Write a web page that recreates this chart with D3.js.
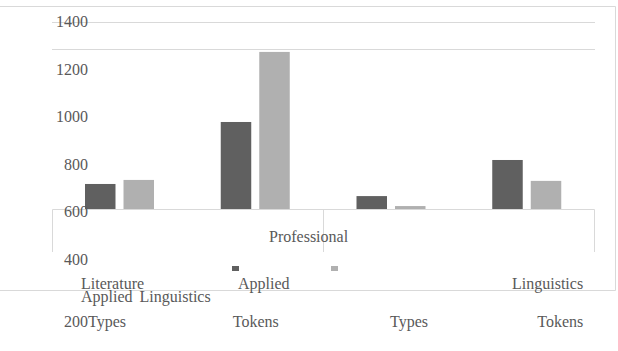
<!DOCTYPE html>
<html><head><meta charset="utf-8">
<script src="https://cdn.jsdelivr.net/npm/d3@7"></script>
<style>
html,body{margin:0;padding:0;background:#fff;}
svg{display:block;}
</style></head>
<body>
<script>
// ---- data ----
const categories = ["Literature Types", "Literature Tokens", "Applied Linguistics Types", "Applied Linguistics Tokens"];
const seriesNames = ["Series 1", "Series 2"];
const darkValues = [718, 979, 667, 819];
const lightValues = [735, 1274, 625, 731];
const yTicks = [1400, 1200, 1000, 800, 600, 400];
const gridValues = [1400, 1286];
const bottomLabels = ["Types", "Tokens", "Types", "Tokens"];

const W = 618, H = 351;
const FONT = "'Liberation Serif', 'Times New Roman', 'DejaVu Serif', serif";
const svg = d3.select("body").append("svg").attr("width", W).attr("height", H)
  .attr("font-family", FONT).attr("font-size", 16);
const grid = "#d9d9d9";
const textColor = "#595959";

const x = d3.scaleBand().domain(categories).range([52, 595]);
const y = d3.scaleLinear().domain([400, 1400]).range([259.5, 22]);
const inner = d3.scaleBand().domain(seriesNames).range([33, 102]).paddingInner(0.208);

// outer border (no left edge)
svg.append("path")
  .attr("d", "M0,6.5H615.5V290.5H0")
  .attr("fill", "none").attr("stroke", grid).attr("stroke-width", 1);

// gridlines
svg.selectAll("line.grid").data(gridValues).join("line")
  .attr("x1", 52).attr("x2", 595)
  .attr("y1", d => Math.round(y(d)) + 0.5).attr("y2", d => Math.round(y(d)) + 0.5)
  .attr("stroke", grid);

// bars
const colors = ["#606060", "#b0b0b0"];
[darkValues, lightValues].forEach((vals, si) => {
  svg.selectAll("rect.s" + si).data(vals).join("rect")
    .attr("x", (d, i) => x(categories[i]) + inner(seriesNames[si]))
    .attr("width", inner.bandwidth())
    .attr("y", d => y(d))
    .attr("height", d => y(500) - y(d))
    .attr("fill", colors[si]);
});

// white overlay box
svg.append("rect").attr("x", 52).attr("y", 209).attr("width", 543).attr("height", 80).attr("fill", "#fff");
svg.append("path")
  .attr("d", "M52.5,252V209.5H594.5V252M323.5,209.5V252")
  .attr("fill", "none").attr("stroke", grid);

const T = (xx, yy, s, anchor) => svg.append("text").attr("x", xx).attr("y", yy)
  .attr("fill", textColor).attr("text-anchor", anchor || "start").text(s);

// y tick labels
svg.selectAll("text.yt").data(yTicks).join("text")
  .attr("x", 88).attr("y", d => y(d) + 5).attr("fill", textColor)
  .attr("text-anchor", "end").text(d => d);
T(88, 327, "200", "end");

// bottom category labels
const labelOffsets = [36, 45, 66.5, 78];
svg.selectAll("text.bl").data(bottomLabels).join("text")
  .attr("x", (d, i) => x(categories[i]) + labelOffsets[i]).attr("y", 327)
  .attr("fill", textColor).text(d => d);

// misc labels
T(269, 242, "Professional");
T(81, 289, "Literature");
T(81, 302, "Applied Linguistics").attr("word-spacing", "3px");
T(238, 289, "Applied");
T(512, 289, "Linguistics");

// legend markers
svg.append("rect").attr("x", 232).attr("y", 266).attr("width", 7).attr("height", 5).attr("fill", colors[0]);
svg.append("rect").attr("x", 331).attr("y", 266).attr("width", 7).attr("height", 5).attr("fill", colors[1]);
</script>
</body></html>
